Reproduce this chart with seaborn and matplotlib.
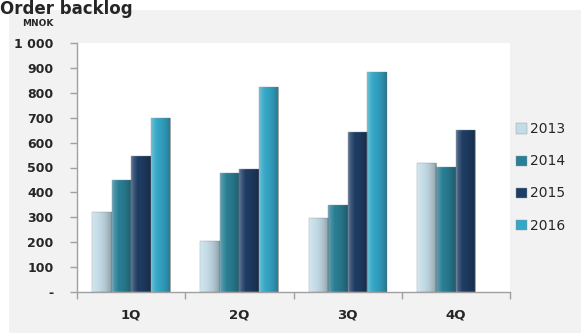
import numpy as np
import pandas as pd
import matplotlib
matplotlib.use("Agg")
import matplotlib.pyplot as plt
import seaborn as sns
from matplotlib.patches import Rectangle

quarters = ["1Q", "2Q", "3Q", "4Q"]
years = ["2013", "2014", "2015", "2016"]
v2013 = [320, 205, 297, 519]
v2014 = [450, 478, 349, 503]
v2015 = [545, 492, 644, 650]
v2016 = [697, 822, 885, np.nan]
yticks = [0, 100, 200, 300, 400, 500, 600, 700, 800, 900, 1000]
ytick_labels = ["-", "100", "200", "300", "400", "500", "600", "700", "800", "900", "1 000"]

rows = []
for y, vals in zip(years, [v2013, v2014, v2015, v2016]):
    for q, v in zip(quarters, vals):
        rows.append({"Quarter": q, "Year": y, "Value": v})
df = pd.DataFrame(rows)

colors = ["#c4dce7", "#2a7f95", "#1f3d64", "#34a6c6"]

sns.set_theme(style="white")
plt.rcParams['font.family'] = ['DejaVu Sans']

fig = plt.figure(figsize=(5.81, 3.33), dpi=100)
fig.patch.set_facecolor("white")
fig.patches.append(Rectangle((9/581, 0), 1 - 9/581, 1 - 10/333, transform=fig.transFigure,
                             facecolor="#f2f2f2", edgecolor="none", zorder=-10))

ax = fig.add_axes([77/581, 1 - 292/333, (510 - 77)/581, (292 - 43)/333])
ax.set_facecolor("white")

sns.barplot(data=df, x="Quarter", y="Value", hue="Year", order=quarters, hue_order=years,
            palette=colors, width=0.72, ax=ax, errorbar=None, saturation=1,
            edgecolor="#8a9aa4", linewidth=0.3)

# subtle horizontal shading on each bar (cylinder-like look)
shade = np.array([0.30, 0.12, 0.0, -0.05, -0.10, -0.18, -0.30])
grad = np.zeros((1, 64, 4))
xs = np.linspace(0, 1, 64)
prof = np.interp(xs, np.linspace(0, 1, len(shade)), shade)
for i, p in enumerate(prof):
    if p >= 0:
        grad[0, i] = [1, 1, 1, p]
    else:
        grad[0, i] = [0, 0, 0, -p]
for bar in list(ax.patches):
    h = bar.get_height()
    if not np.isfinite(h) or h <= 0:
        continue
    x0 = bar.get_x()
    w = bar.get_width()
    im = ax.imshow(grad, extent=[x0, x0 + w, 0, h], aspect="auto", zorder=bar.get_zorder() + 0.1,
                   interpolation="bilinear")
    im.set_clip_path(bar)

ax.set_ylim(0, 1000)
ax.set_xlim(-0.5, 3.5)
ax.set_yticks(yticks)
ax.set_yticklabels(ytick_labels, fontsize=9, fontweight="bold")
ax.set_xticks([0, 1, 2, 3])
ax.set_xticklabels(quarters, fontsize=9.5, fontweight="bold")
ax.tick_params(axis="x", length=0, pad=12)
ax.tick_params(axis="y", length=5, color="#a0a0a0", left=True, width=1, pad=12)
ax.set_xticks([0.5, 1.5, 2.5, 3.5, -0.5], minor=True)
ax.tick_params(axis="x", which="minor", length=5, color="#a0a0a0", bottom=True, width=1)
ax.set_xlabel("")
ax.set_ylabel("")
for s in ["top", "right"]:
    ax.spines[s].set_visible(False)
for s in ["left", "bottom"]:
    ax.spines[s].set_color("#a0a0a0")
    ax.spines[s].set_linewidth(1)

leg = ax.legend(loc="center left", bbox_to_anchor=(1.015, 0.46), frameon=False,
                fontsize=10, handlelength=0.75, handleheight=0.75, handletextpad=0.25,
                labelspacing=1.3, borderpad=0, borderaxespad=0)

fig.text(22/581, 1 - 23/333, "MNOK", fontsize=6.5, fontweight="bold", va="center", ha="left")
fig.text(0.0, 1.0, "Order backlog", fontsize=12, fontweight="bold", va="top", ha="left")

fig.savefig("out.png", dpi=100)
